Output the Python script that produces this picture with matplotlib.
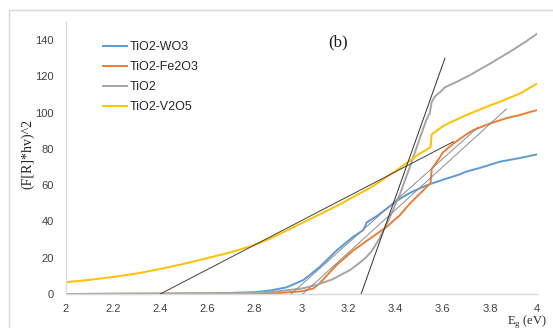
import matplotlib
matplotlib.use("Agg")
import matplotlib.pyplot as plt
from matplotlib.patches import Rectangle

# ---- data ----
wo3_E = [2.0, 2.6, 2.8, 2.87, 2.937, 3.008, 3.078, 3.149, 3.22, 3.263, 3.277, 3.32, 3.376,
         3.418, 3.461, 3.532, 3.60, 3.673, 3.70, 3.77, 3.843, 3.928, 4.0]
wo3_v = [0.0, 0.2, 1.0, 2.0, 3.7, 7.7, 15.0, 24.0, 31.6, 35.3, 39.5, 43.0, 48.5,
         52.5, 55.8, 60.0, 63.0, 66.0, 67.5, 70.0, 73.0, 75.0, 77.0]

fe_E = [2.0, 2.9, 3.0, 3.05, 3.078, 3.149, 3.22, 3.29, 3.361, 3.418, 3.461, 3.50, 3.539,
        3.548, 3.553, 3.589, 3.60, 3.645, 3.70, 3.73, 3.80, 3.871, 3.928, 3.96, 4.0]
fe_v = [0.0, 0.5, 1.5, 3.0, 6.0, 16.0, 24.0, 30.5, 37.0, 43.5, 50.0, 55.0, 60.0,
        61.0, 69.0, 75.6, 78.0, 83.0, 88.0, 90.4, 94.0, 97.0, 98.7, 100.0, 101.4]

tio2_E = [2.0, 2.7, 2.8, 2.9, 3.0, 3.064, 3.13, 3.206, 3.25, 3.277, 3.30, 3.333, 3.376,
          3.418, 3.46, 3.50, 3.53, 3.545, 3.553, 3.567, 3.59, 3.609, 3.659, 3.715, 3.80,
          3.885, 3.95, 4.0]
tio2_v = [0.0, 0.3, 0.7, 1.5, 3.0, 5.0, 8.0, 13.2, 17.5, 20.6, 24.0, 31.0, 42.6,
          55.0, 70.0, 85.0, 96.0, 100.0, 106.0, 109.0, 111.5, 114.0, 117.0, 120.7, 127.0,
          133.6, 139.0, 143.5]

v2o5_E = [2.0, 2.1, 2.2, 2.3, 2.4, 2.5, 2.6, 2.7, 2.8, 2.866, 3.008, 3.149, 3.29, 3.333,
          3.418, 3.503, 3.548, 3.553, 3.60, 3.63, 3.70, 3.80, 3.843, 3.928, 4.0]
v2o5_v = [6.5, 7.8, 9.4, 11.3, 13.8, 16.6, 19.8, 23.0, 27.0, 30.5, 39.5, 48.5, 58.5, 62.0,
          69.5, 77.5, 81.0, 88.0, 92.5, 94.5, 98.7, 104.0, 106.0, 110.6, 116.0]

series_labels = ["TiO2-WO3", "TiO2-Fe2O3", "TiO2", "TiO2-V2O5"]

# tangent (extrapolation) lines: start/end points
tan_x0 = [2.40, 2.93, 2.98, 3.253]
tan_y0 = [0.0, -3.0, -3.0, 0.0]
tan_x1 = [3.645, 3.75, 3.87, 3.609]
tan_y1 = [84.0, 92.0, 102.0, 130.0]

xticks = [2, 2.2, 2.4, 2.6, 2.8, 3, 3.2, 3.4, 3.6, 3.8, 4]
xtick_labels = ["2", "2.2", "2.4", "2.6", "2.8", "3", "3.2", "3.4", "3.6", "3.8", "4"]
yticks = [0, 20, 40, 60, 80, 100, 120, 140]

# ---- figure ----
fig = plt.figure(figsize=(5.53, 3.28), dpi=100)
fig.patches.append(Rectangle((9 / 553, -0.2), 1.2, 1 - 10 / 328 + 0.2,
                             transform=fig.transFigure, fill=False,
                             edgecolor="#d9d9d9", linewidth=1.0))
ax = fig.add_axes([66 / 553, 34 / 328, 471 / 553, 272 / 328])

colors = ["#5B9BD5", "#ED7D31", "#A5A5A5", "#FFC000"]
xs = [wo3_E, fe_E, tio2_E, v2o5_E]
ys = [wo3_v, fe_v, tio2_v, v2o5_v]
for x, y, c, lab in zip(xs, ys, colors, series_labels):
    ax.plot(x, y, color=c, lw=1.4, label=lab, zorder=2)

tan_colors = ["#404040", "#8c8c8c", "#8c8c8c", "#303030"]
for x0, y0, x1, y1, c in zip(tan_x0, tan_y0, tan_x1, tan_y1, tan_colors):
    ax.plot([x0, x1], [y0, y1], color=c, lw=0.7, zorder=3)

ax.set_xlim(2, 4)
ax.set_ylim(0, 150)
ax.set_xticks(xticks)
ax.set_xticklabels(xtick_labels)
ax.set_yticks(yticks)
for s in ["top", "right"]:
    ax.spines[s].set_visible(False)
for s in ["left", "bottom"]:
    ax.spines[s].set_color("#d9d9d9")
    ax.spines[s].set_linewidth(1.0)
ax.tick_params(axis="both", length=0, labelsize=8, labelcolor="#404040")
ax.tick_params(axis="y", pad=9)
ax.tick_params(axis="x", pad=7)
for lbl in ax.get_xticklabels() + ax.get_yticklabels():
    lbl.set_family("Liberation Sans")

leg = ax.legend(loc="upper left", bbox_to_anchor=(0.0786, 0.93), frameon=False,
                prop={"family": "Liberation Sans", "size": 9},
                handlelength=1.9, handletextpad=0.25, labelspacing=0.65,
                borderpad=0, borderaxespad=0)
for t in leg.get_texts():
    t.set_color("#262626")

ax.text(3.155, 139, "(b)", fontsize=12, family="Liberation Serif",
        ha="center", va="center", color="#1a1a1a")
fig.text(28 / 553, 1 - 154 / 328, "(F[R]*hv)^2", rotation=90, fontsize=10,
         family="Liberation Serif", ha="center", va="center", color="#262626")
fig.text(527 / 553, 1 - 321 / 328, "E$_{\\mathregular{g}}$ (eV)", fontsize=9,
         family="Liberation Serif", ha="center", va="center", color="#262626")

fig.savefig("out.png", dpi=100, facecolor="white")
